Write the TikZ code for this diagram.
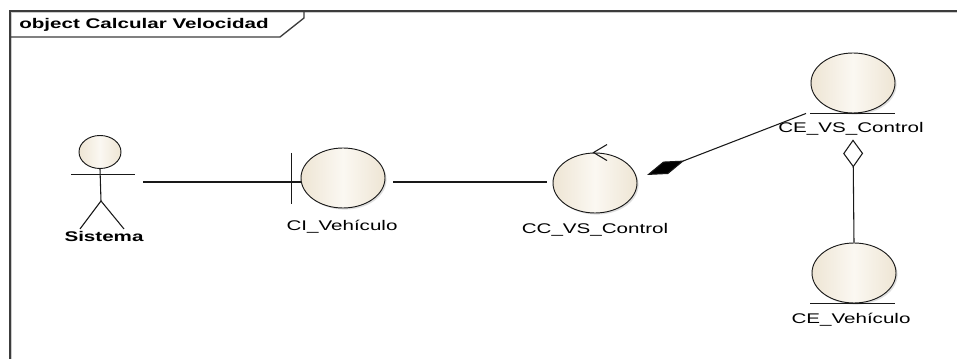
\documentclass[tikz,border=0pt]{standalone}
\usepackage{fontspec}
\setmainfont{Liberation Sans}
\usetikzlibrary{shapes.geometric,arrows.meta,shadows,calc}

\definecolor{robEdge}{RGB}{238,229,212}
\definecolor{robMid}{RGB}{251,248,242}
\definecolor{inkline}{RGB}{25,25,25}
\definecolor{framegray}{RGB}{60,60,60}

% wide sans labels as the modelling tool prints them
\newcommand{\wtxt}[1]{\scalebox{1.47}[1]{#1}}

\tikzset{
  robust/.style={ellipse, draw=inkline, line width=0.7pt, inner sep=0pt,
    minimum width=63pt, minimum height=45pt,
    left color=robEdge, right color=robEdge, middle color=robMid,
    drop shadow={shadow xshift=1.2pt, shadow yshift=-1.2pt, opacity=0.25, fill=gray}},
  headshape/.style={ellipse, draw=inkline, line width=0.7pt, inner sep=0pt,
    minimum width=31.5pt, minimum height=24.75pt,
    left color=robEdge, right color=robEdge, middle color=robMid},
  lbl/.style={inner sep=0pt, font=\fontsize{10.5}{12}\selectfont, text=black},
  blbl/.style={lbl, font=\fontsize{10.5}{12}\selectfont\bfseries},
  conn/.style={draw=inkline, line width=0.8pt},
  comp/.style={conn, -{Diamond[length=30pt, width=10pt, fill=black]}},
  aggr/.style={conn, -{Diamond[open, length=21pt, width=15pt, fill=white]}},
  framestroke/.style={draw=framegray, line width=1pt},
}

\begin{document}
\begin{tikzpicture}[x=0.75pt, y=-0.75pt]
\useasboundingbox (0,0) rectangle (957,359);
\fill[white] (0,0) rectangle (957,359);

% diagram frame with its name tab
\draw[gray!40, line width=0.9pt] (957,12.5) -- (11.5,12.5) -- (11.5,359);
\draw[framestroke] (957,11) -- (10,11) -- (10,359);
\draw[framestroke] (10,37) -- (280,37) -- (304,18) -- (304,11);
\node[blbl, anchor=west] (title) at (19,25) {\wtxt{object Calcular Velocidad}};

% actor
\node[headshape] (sys) at (100,152) {};
\draw[conn] (sys.south) -- ++(1,32) coordinate (hip);
\draw[conn] ($(sys.south)+(-29,6)$) -- ++(64,0);
\draw[conn] (hip) -- ++(-21,28);
\draw[conn] (hip) -- ++(23,28);
\node[blbl] (sysname) at (104,236) {\wtxt{Sistema}};
\coordinate (sysR) at (143,182);

% boundary object
\node[robust] (ci) at (343,178) {};
\coordinate (ciBar) at ($(ci.west)+(-9,4)$);
\draw[conn] ($(ciBar)+(0,-29)$) -- ($(ciBar)+(0,22)$);
\draw[conn] (ciBar) -- (ciBar -| ci.west);
\node[lbl] (ciname) at (342,227) {\wtxt{CI\_Vehículo}};

% control object
\node[robust] (cc) at (595,183) {};
\draw[conn] ($(cc.north)+(12,-8)$) -- ($(cc.north)+(-1.5,0)$) -- ($(cc.north)+(12,8)$);
\node[lbl] (ccname) at (595,230) {\wtxt{CC\_VS\_Control}};

% entity objects
\node[robust] (cevs) at (853,83) {};
\draw[conn] ($(cevs.south)+(-43,0)$) coordinate (cevsUL) -- ($(cevs.south)+(42,0)$);
\node[lbl] (cevsname) at (851,129) {\wtxt{CE\_VS\_Control}};

\node[robust] (cev) at (854,273) {};
\draw[conn] ($(cev.south)+(-44,0)$) -- ($(cev.south)+(41,0)$);
\node[lbl] (cevname) at (851,320) {\wtxt{CE\_Vehículo}};

% connectors
\draw[conn] (sysR) -- (ciBar);
\draw[conn] ($(ci.east)+(8,4)$) -- ($(cc.west)+(-6,-1)$);
\draw[comp] ($(cevsUL)+(-4,0)$) -- ($(cc.center)+(52,-8)$);
\draw[aggr] (cev.north) -- ($(cevs.south)+(0,26)$);
\end{tikzpicture}
\end{document}
